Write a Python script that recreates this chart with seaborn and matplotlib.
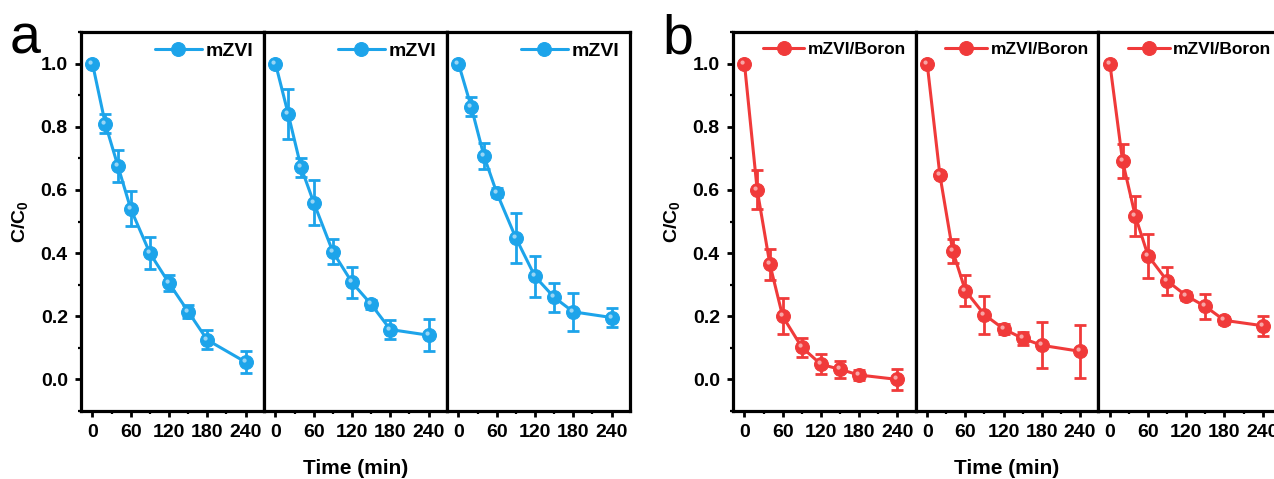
"""
Recreation of the C/C0 vs time degradation curves:
(a) mZVI, three repeats   (b) mZVI/Boron, three repeats
"""

import numpy as np
import matplotlib
matplotlib.use("Agg")
import matplotlib.pyplot as plt
import seaborn as sns
from matplotlib.path import Path
from matplotlib.ticker import MultipleLocator

# ---------------------------------------------------------------- data
time_min = [0, 20, 40, 60, 90, 120, 150, 180, 240]

mzvi_run1 = [1.0, 0.81, 0.675, 0.54, 0.40, 0.305, 0.215, 0.125, 0.055]
mzvi_run1_err = [0.0, 0.03, 0.05, 0.055, 0.05, 0.025, 0.02, 0.03, 0.035]
mzvi_run2 = [1.0, 0.84, 0.672, 0.56, 0.404, 0.307, 0.238, 0.158, 0.14]
mzvi_run2_err = [0.0, 0.08, 0.03, 0.07, 0.04, 0.05, 0.015, 0.03, 0.05]
mzvi_run3 = [1.0, 0.863, 0.707, 0.591, 0.448, 0.326, 0.26, 0.214, 0.196]
mzvi_run3_err = [0.0, 0.03, 0.04, 0.015, 0.078, 0.064, 0.045, 0.06, 0.03]

boron_run1 = [1.0, 0.60, 0.364, 0.20, 0.102, 0.048, 0.032, 0.014, 0.0]
boron_run1_err = [0.0, 0.062, 0.05, 0.057, 0.03, 0.032, 0.027, 0.015, 0.032]
boron_run2 = [1.0, 0.647, 0.408, 0.281, 0.205, 0.16, 0.13, 0.108, 0.089]
boron_run2_err = [0.0, 0.01, 0.038, 0.05, 0.06, 0.015, 0.02, 0.073, 0.084]
boron_run3 = [1.0, 0.691, 0.517, 0.392, 0.312, 0.265, 0.231, 0.187, 0.17]
boron_run3_err = [0.0, 0.054, 0.064, 0.07, 0.044, 0.012, 0.04, 0.012, 0.032]

x_ticks = [0, 60, 120, 180, 240]
y_ticks = [0.0, 0.2, 0.4, 0.6, 0.8, 1.0]

BLUE = "#1DA4EA"
RED = "#F03A3A"

# ---------------------------------------------------------------- style
sns.set_style("ticks")
plt.rcParams["font.family"] = ["Liberation Sans", "DejaVu Sans"]
plt.rcParams["font.weight"] = "bold"
plt.rcParams["axes.labelweight"] = "bold"
plt.rcParams["mathtext.fontset"] = "custom"
plt.rcParams["mathtext.rm"] = "Liberation Sans:bold"
plt.rcParams["mathtext.bf"] = "Liberation Sans:bold"
plt.rcParams["text.color"] = "black"
plt.rcParams["axes.labelcolor"] = "black"
plt.rcParams["xtick.color"] = "black"
plt.rcParams["ytick.color"] = "black"
plt.rcParams["axes.edgecolor"] = "black"

W, H = 1274, 479
fig = plt.figure(figsize=(W / 100, H / 100), dpi=100)

# shiny spot drawn on top of each ball marker
_c = Path.circle(center=(-0.28, 0.28), radius=0.3)
spot = Path(np.vstack([_c.vertices, [[-1, -1], [1, 1]]]),
            np.concatenate([_c.codes, [Path.MOVETO, Path.MOVETO]]))


def px_axes(left, width, top=32, bottom=411):
    return fig.add_axes([left / W, (H - bottom) / H, width / W, (bottom - top) / H])


def draw_run(ax, y, yerr, color, label, first, legend_size):
    sns.lineplot(x=time_min, y=y, ax=ax, color=color, lw=2.2, marker="o",
                 markersize=10, markeredgecolor=color, label=label)
    ax.errorbar(time_min, y, yerr=yerr, fmt="none", ecolor=color,
                elinewidth=2, capsize=4, capthick=2)
    ax.plot(time_min, y, ls="none", marker=spot, markersize=10,
            markerfacecolor="white", markeredgecolor="none", alpha=0.55)

    ax.set_xlim(-18, 269)
    ax.set_ylim(-0.1, 1.1)
    ax.set_xticks(x_ticks)
    ax.xaxis.set_minor_locator(MultipleLocator(30))
    ax.set_yticks(y_ticks)
    ax.yaxis.set_minor_locator(MultipleLocator(0.1))
    ax.set_xlabel("")
    ax.set_ylabel("")
    for s in ax.spines.values():
        s.set_linewidth(2.3)
        s.set_color("black")
        s.set_visible(True)
    ax.tick_params(which="major", direction="out", length=4.5, width=2,
                   labelsize=14, pad=5, top=False, right=False)
    ax.tick_params(which="minor", direction="out", length=2.5, width=1.6,
                   top=False, right=False)
    if not first:
        ax.tick_params(axis="y", which="both", left=False, labelleft=False)
    else:
        ax.set_yticklabels([f"{v:.1f}" for v in y_ticks])
    ax.legend(loc="upper right", frameon=False, handlelength=2.4,
              handletextpad=0.2, borderaxespad=0.1, borderpad=0.45,
              prop={"weight": "bold", "size": legend_size})


panels = [
    ("a", 81, 183, BLUE, "mZVI", 14,
     [(mzvi_run1, mzvi_run1_err), (mzvi_run2, mzvi_run2_err), (mzvi_run3, mzvi_run3_err)]),
    ("b", 733, 182.7, RED, "mZVI/Boron", 12.5,
     [(boron_run1, boron_run1_err), (boron_run2, boron_run2_err), (boron_run3, boron_run3_err)]),
]

for letter, left, width, color, label, lsize, runs in panels:
    axes = []
    for i, (y, yerr) in enumerate(runs):
        ax = px_axes(left + i * width, width)
        draw_run(ax, y, yerr, color, label, first=(i == 0), legend_size=lsize)
        axes.append(ax)
    axes[0].set_ylabel("C/C$_{0}$", fontsize=14, fontweight="bold", labelpad=7)
    axes[1].set_xlabel("Time (min)", fontsize=15, fontweight="bold", labelpad=13)
    fig.text((left - 71) / W, (H - 53) / H, letter, fontsize=40,
             fontweight="normal", ha="left", va="baseline")

fig.savefig("out.png", dpi=100)
